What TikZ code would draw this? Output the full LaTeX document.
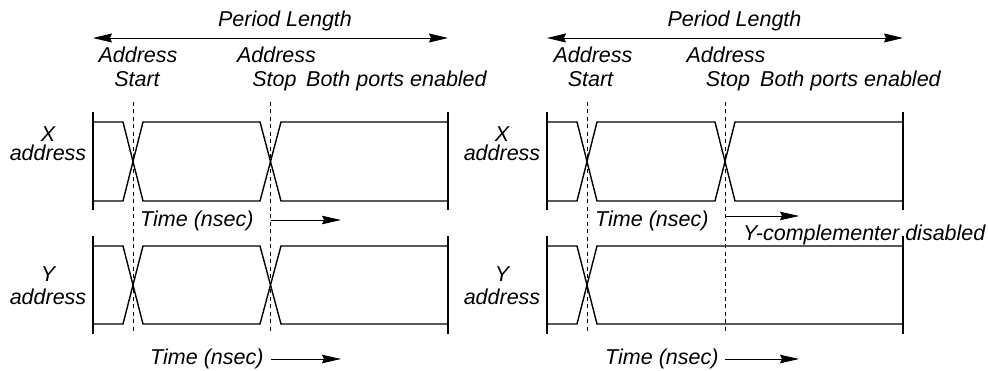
\documentclass[tikz,border=0pt]{standalone}
\usepackage{fontspec}
\setmainfont{Liberation Sans}
\usetikzlibrary{arrows.meta}
\begin{document}
\begin{tikzpicture}[x=1pt,y=-1pt,
  lbl/.style={inner sep=0pt,font=\fontsize{21.5}{24}\selectfont\itshape},
  two/.style={lbl,align=center,anchor=south},
  wave/.style={line width=1.4pt,line join=miter},
  guide/.style={line width=0.8pt,dash pattern=on 4pt off 3.5pt},
  tarrow/.style={line width=0.9pt,-{Stealth[length=19pt,width=8.5pt,inset=2pt]}},
  parrow/.style={line width=0.9pt,{Stealth[length=19pt,width=9pt,inset=2pt]}-{Stealth[length=19pt,width=9pt,inset=2pt]}}]
\useasboundingbox (0,0) rectangle (988,371);

% ================= LEFT PANEL =================
% texts
\node[lbl,anchor=base] (Lper) at (285,27) {Period Length};
\node[lbl,anchor=base] (Laddr1) at (138,63) {Address};
\node[lbl,anchor=base] (Lstart) at (137,87) {Start};
\node[lbl,anchor=base] (Laddr2) at (276.5,63) {Address};
\node[lbl,anchor=base] (Lstop) at (274.5,87) {Stop};
\node[lbl,anchor=base west] (Lboth) at (306,87) {Both ports enabled};
\node[two,font=\fontsize{21.5}{19.3}\selectfont\itshape] (LX) at (48,161) {X\\address};
\node[two,font=\fontsize{21.5}{23.3}\selectfont\itshape] (LY) at (48,305) {Y\\address};
\node[lbl,anchor=base west] (Ltime1) at (140,226.5) {Time (nsec)};
\node[lbl,anchor=base west] (Ltime2) at (150,364) {Time (nsec)};

% period arrow
\coordinate (LpA) at (93,38);
\coordinate (LpB) at (448,38);
\draw[parrow] (LpA) -- (LpB);

% X waveform
\draw[wave] (93,112) -- (93,210);
\draw[wave] (448,112) -- (448,210);
\draw[wave] (93,122) -- (123,122) -- (143,201) -- (260,201) -- (281,122) -- (448,122);
\draw[wave] (93,201) -- (123,201) -- (143,122) -- (260,122) -- (281,201) -- (448,201);
% Y waveform
\draw[wave] (93,236) -- (93,334);
\draw[wave] (448,236) -- (448,334);
\draw[wave] (93,246) -- (123,246) -- (143,324) -- (260,324) -- (281,246) -- (448,246);
\draw[wave] (93,324) -- (123,324) -- (143,246) -- (260,246) -- (281,324) -- (448,324);

% guides
\coordinate (Lg1t) at (133,102); \coordinate (Lg1b) at (133,334);
\coordinate (Lg2t) at (270.5,102); \coordinate (Lg2b) at (270.5,334);
\draw[guide] (Lg1t) -- (Lg1b);
\draw[guide] (Lg2t) -- (Lg2b);

% time arrows
\coordinate (Lt1a) at (270.5,220); \coordinate (Lt1b) at (341,220);
\draw[tarrow] (Lt1a) -- (Lt1b);
\coordinate (Lt2a) at (271,359); \coordinate (Lt2b) at (341,359);
\draw[tarrow] (Lt2a) -- (Lt2b);

% ================= RIGHT PANEL =================
\node[lbl,anchor=base] (Rper) at (734.5,27) {Period Length};
\node[lbl,anchor=base] (Raddr1) at (593,63) {Address};
\node[lbl,anchor=base] (Rstart) at (590.5,87) {Start};
\node[lbl,anchor=base] (Raddr2) at (726,63) {Address};
\node[lbl,anchor=base] (Rstop) at (728,87) {Stop};
\node[lbl,anchor=base west] (Rboth) at (760,87) {Both ports enabled};
\node[two,font=\fontsize{21.5}{19.3}\selectfont\itshape] (RX) at (502,161) {X\\address};
\node[two,font=\fontsize{21.5}{23.3}\selectfont\itshape] (RY) at (502,305) {Y\\address};
\node[lbl,anchor=base west] (Rtime1) at (595,226.5) {Time (nsec)};
\node[lbl,anchor=base west] (Rtime2) at (605,364) {Time (nsec)};
\node[lbl,anchor=base west] (Rycomp) at (743,241) {Y-complementer disabled};

\coordinate (RpA) at (547,38);
\coordinate (RpB) at (903,38);
\draw[parrow] (RpA) -- (RpB);

% X waveform
\draw[wave] (547,112) -- (547,210);
\draw[wave] (903,112) -- (903,210);
\draw[wave] (547,122) -- (577,122) -- (597,201) -- (715,201) -- (735,122) -- (903,122);
\draw[wave] (547,201) -- (577,201) -- (597,122) -- (715,122) -- (735,201) -- (903,201);
% Y waveform
\draw[wave] (547,236) -- (547,334);
\draw[wave] (903,236) -- (903,334);
\draw[wave] (547,246) -- (577,246) -- (597,324) -- (903,324);
\draw[wave] (547,324) -- (577,324) -- (597,246) -- (903,246);

% guides
\coordinate (Rg1t) at (587,102); \coordinate (Rg1b) at (587,334);
\coordinate (Rg2t) at (725,102); \coordinate (Rg2b) at (725,334);
\draw[guide] (Rg1t) -- (Rg1b);
\draw[guide] (Rg2t) -- (Rg2b);

% time arrows
\coordinate (Rt1a) at (725,216); \coordinate (Rt1b) at (799,216);
\draw[tarrow] (Rt1a) -- (Rt1b);
\coordinate (Rt2a) at (725,359); \coordinate (Rt2b) at (799,359);
\draw[tarrow] (Rt2a) -- (Rt2b);
\end{tikzpicture}
\end{document}
